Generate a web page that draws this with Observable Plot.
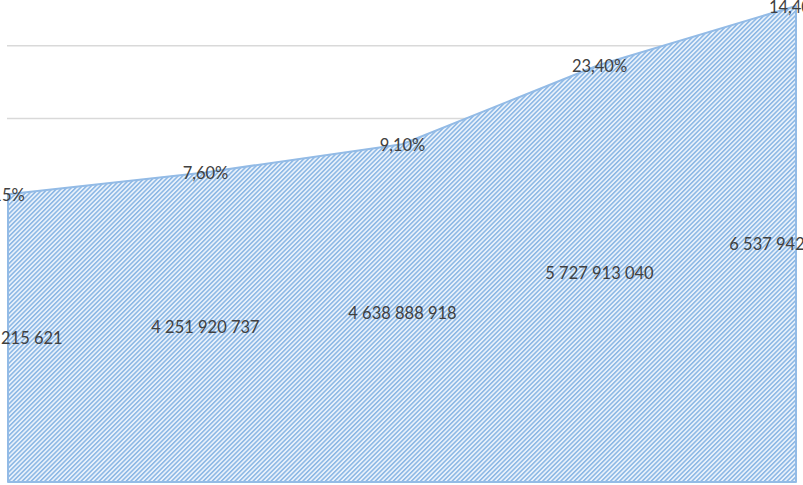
<!DOCTYPE html>
<html>
<head>
<meta charset="utf-8">
<script src="https://cdn.jsdelivr.net/npm/d3@7"></script>
<script src="https://cdn.jsdelivr.net/npm/@observablehq/plot@0.6"></script>
<style>
  html, body { margin: 0; padding: 0; background: #ffffff; }
  #chart { width: 803px; height: 485px; overflow: hidden; }
</style>
</head>
<body>
<div id="chart"></div>
<script>
// Data
const periods = ["Period 1", "Period 2", "Period 3", "Period 4", "Period 5"];
const values = [3951215621, 4251920737, 4638888918, 5727913040, 6537942185];
const growthLabels = ["15%", "7,60%", "9,10%", "23,40%", "14,40%"];
const gridTicks = [5e9, 6e9];

const data = periods.map((p, i) => ({period: p, value: values[i], growth: growthLabels[i], idx: i}));
const fmt = v => d3.format(",")(v).replace(/,/g, " ");
const lastIdx = data.length - 1;

const pctStyle = {fill: "#404040", fontSize: 16.5, fontFamily: "Lato, 'Open Sans', sans-serif"};
const valStyle = {fill: "#404040", fontSize: 16.5, fontFamily: "Lato, 'Open Sans', sans-serif"};

const plot = Plot.plot({
  width: 803,
  height: 485,
  marginLeft: 7,
  marginRight: 6,
  marginTop: 0,
  marginBottom: 3,
  x: {type: "point", domain: periods, padding: 0, axis: null},
  y: {domain: [0, 6.62e9], axis: null},
  style: {background: "#ffffff", overflow: "hidden"},
  marks: [
    Plot.ruleY(gridTicks, {stroke: "#d9d9d9", strokeWidth: 1.5}),
    Plot.areaY(data, {x: "period", y: "value", fill: "#c0d7f0", stroke: "#93bbe6", strokeWidth: 2}),
    Plot.text(data, {x: "period", y: "value", dy: 1, text: "growth", ...pctStyle}),
    Plot.text(data.filter(d => d.idx !== lastIdx), {x: "period", y: d => d.value / 2, text: d => fmt(d.value), ...valStyle}),
    Plot.text(data.filter(d => d.idx === lastIdx), {x: "period", y: d => d.value / 2, text: d => fmt(d.value), dx: -13, ...valStyle})
  ]
});

const svg = d3.select(plot);
svg.insert("defs", ":first-child").html(
  `<pattern id="hatch" patternUnits="userSpaceOnUse" width="3.2" height="3.2" patternTransform="rotate(45)">
     <rect width="3.2" height="3.2" fill="#e8f1fb"></rect>
     <rect width="1.5" height="3.2" fill="#8ab6e4"></rect>
   </pattern>`
);
svg.selectAll("g[aria-label='area']").attr("fill", "url(#hatch)");
svg.selectAll("g[aria-label='area'] path").attr("fill", "url(#hatch)");

document.getElementById("chart").appendChild(plot);
</script>
</body>
</html>
